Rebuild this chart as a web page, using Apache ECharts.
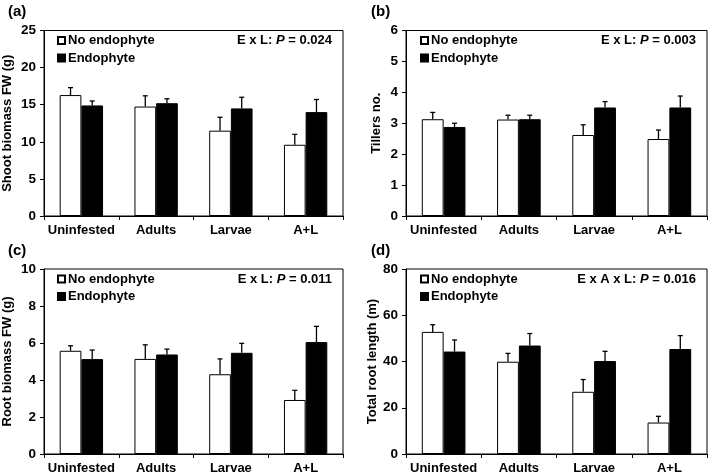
<!DOCTYPE html>
<html>
<head>
<meta charset="utf-8">
<script src="https://cdn.jsdelivr.net/npm/echarts@6/dist/echarts.min.js"></script>
<style>
  html, body { margin: 0; padding: 0; background: #fff; }
  #chart { width: 709px; height: 475px; }
</style>
</head>
<body>
<div id="chart"></div>
<script>
// categories and series names
const categories = ['Uninfested', 'Adults', 'Larvae', 'A+L'];
const groups = ['No endophyte', 'Endophyte'];

// (a) shoot biomass FW (g): means and SE
const shootNoEndo = [16.3, 14.75, 11.5, 9.6];
const shootNoEndoSE = [1.0, 1.45, 1.8, 1.4];
const shootEndo = [14.9, 15.2, 14.5, 14.0];
const shootEndoSE = [0.6, 0.6, 1.5, 1.7];

// (b) tillers no.
const tillersNoEndo = [3.13, 3.12, 2.62, 2.49];
const tillersNoEndoSE = [0.22, 0.14, 0.33, 0.29];
const tillersEndo = [2.88, 3.13, 3.51, 3.51];
const tillersEndoSE = [0.12, 0.13, 0.19, 0.37];

// (c) root biomass FW (g)
const rootNoEndo = [5.58, 5.14, 4.31, 2.92];
const rootNoEndoSE = [0.27, 0.76, 0.83, 0.52];
const rootEndo = [5.13, 5.38, 5.47, 6.05];
const rootEndoSE = [0.49, 0.29, 0.51, 0.85];

// (d) total root length (m)
const lengthNoEndo = [52.8, 39.9, 26.9, 13.6];
const lengthNoEndoSE = [3.1, 3.6, 5.3, 2.7];
const lengthEndo = [44.3, 46.9, 40.2, 45.4];
const lengthEndoSE = [5.0, 5.2, 4.2, 5.8];

// axis settings per panel
const yMax = [25, 6, 10, 80];
const yStep = [5, 1, 2, 20];
const yNames = ['Shoot biomass FW (g)', 'Tillers no.', 'Root biomass FW (g)', 'Total root length (m)'];
const panelLabels = ['(a)', '(b)', '(c)', '(d)'];
const pTerms = ['E x L: ', 'E x L: ', 'E x L: ', 'E x A x L: '];
const pValues = ['0.024', '0.003', '0.011', '0.016'];

const panels = [
  [shootNoEndo, shootNoEndoSE, shootEndo, shootEndoSE],
  [tillersNoEndo, tillersNoEndoSE, tillersEndo, tillersEndoSE],
  [rootNoEndo, rootNoEndoSE, rootEndo, rootEndoSE],
  [lengthNoEndo, lengthNoEndoSE, lengthEndo, lengthEndoSE]
];

const FONT = '"Liberation Sans", Arial, sans-serif';
const CAT_GAP = 0.42;

// panel layout (pixels)
const gridPos = [
  { left: 43, top: 30.5, width: 300, height: 185.5 },
  { left: 406, top: 30.5, width: 301, height: 185.5 },
  { left: 43, top: 269, width: 300, height: 185 },
  { left: 406, top: 269, width: 301, height: 185 }
];
const nameGaps = [30, 23, 30, 24];

const chart = echarts.init(document.getElementById('chart'));

const grids = [], xAxes = [], yAxes = [], series = [], legends = [], titles = [];

panels.forEach((p, i) => {
  const g = gridPos[i];
  grids.push({ left: g.left, top: g.top, width: g.width, height: g.height,
    show: true, borderColor: '#000', borderWidth: 1, backgroundColor: 'transparent' });

  xAxes.push({
    type: 'category', gridIndex: i, data: categories,
    axisLine: { lineStyle: { color: '#000', width: 1 } },
    axisTick: { show: true, length: 4, inside: false, alignWithLabel: false, lineStyle: { color: '#000' } },
    axisLabel: { color: '#000', fontFamily: FONT, fontWeight: 'bold', fontSize: 13, margin: 8, interval: 0 },
    splitLine: { show: false }
  });

  yAxes.push({
    type: 'value', gridIndex: i, min: 0, max: yMax[i], interval: yStep[i],
    name: yNames[i], nameLocation: 'middle', nameGap: nameGaps[i],
    nameTextStyle: { color: '#000', fontFamily: FONT, fontWeight: 'bold', fontSize: 13 },
    axisLine: { show: true, lineStyle: { color: '#000', width: 1 } },
    axisTick: { show: true, length: 4, lineStyle: { color: '#000' } },
    axisLabel: { color: '#000', fontFamily: FONT, fontWeight: 'bold', fontSize: 13.5, margin: 8 },
    splitLine: { show: false }
  });

  series.push({
    name: groups[0], type: 'bar', xAxisIndex: i, yAxisIndex: i,
    data: p[0], barGap: '0%', barCategoryGap: (CAT_GAP * 100) + '%',
    itemStyle: { color: '#fff', borderColor: '#000', borderWidth: 1 },
    emphasis: { disabled: true }
  });
  series.push({
    name: groups[1], type: 'bar', xAxisIndex: i, yAxisIndex: i,
    data: p[2], barGap: '0%', barCategoryGap: (CAT_GAP * 100) + '%',
    itemStyle: { color: '#000', borderColor: '#000', borderWidth: 1 },
    emphasis: { disabled: true }
  });

  // error bars (upper only), [category, mean, se, group]
  const errData = [];
  categories.forEach((c, k) => {
    errData.push([k, p[0][k], p[1][k], 0]);
    errData.push([k, p[2][k], p[3][k], 1]);
  });
  series.push({
    type: 'custom', name: 'err' + i, xAxisIndex: i, yAxisIndex: i, z: 5,
    silent: true, data: errData,
    renderItem: (params, api) => {
      const k = api.value(0), mean = api.value(1), se = api.value(2), grp = api.value(3);
      const band = api.size([1, 0])[0];
      const bw = band * (1 - CAT_GAP) / 2;
      const base = api.coord([k, mean]);
      const top = api.coord([k, mean + se]);
      const x = base[0] + (grp - 0.5) * bw;
      const style = { stroke: '#000', lineWidth: 1.3 };
      return {
        type: 'group',
        children: [
          { type: 'line', shape: { x1: x, y1: base[1], x2: x, y2: top[1] }, style },
          { type: 'line', shape: { x1: x - 2.5, y1: top[1], x2: x + 2.5, y2: top[1] }, style }
        ]
      };
    }
  });

  legends.push({
    data: groups, orient: 'vertical', left: g.left + 14, top: g.top + 3.5,
    icon: 'rect', itemWidth: 7, itemHeight: 7, itemGap: 4.5, padding: 0,
    selectedMode: false,
    textStyle: { color: '#000', fontFamily: FONT, fontWeight: 'bold', fontSize: 13, lineHeight: 13, padding: [0, 0, 0, -2] }
  });

  titles.push({
    text: panelLabels[i], left: g.left - 35, top: g.top - 26, padding: 0,
    textStyle: { color: '#000', fontFamily: FONT, fontWeight: 'bold', fontSize: 15 }
  });
  titles.push({
    text: '{n|' + pTerms[i] + '}{i|P}{n| = ' + pValues[i] + '}',
    right: 709 - (g.left + g.width - 11), top: g.top + 3.5, padding: 0,
    textStyle: {
      rich: {
        n: { color: '#000', fontFamily: FONT, fontWeight: 'bold', fontSize: 13 },
        i: { color: '#000', fontFamily: FONT, fontWeight: 'bold', fontStyle: 'italic', fontSize: 13 }
      }
    }
  });
});

chart.setOption({
  animation: false,
  backgroundColor: '#fff',
  title: titles,
  legend: legends,
  grid: grids,
  xAxis: xAxes,
  yAxis: yAxes,
  series: series
});
</script>
</body>
</html>
